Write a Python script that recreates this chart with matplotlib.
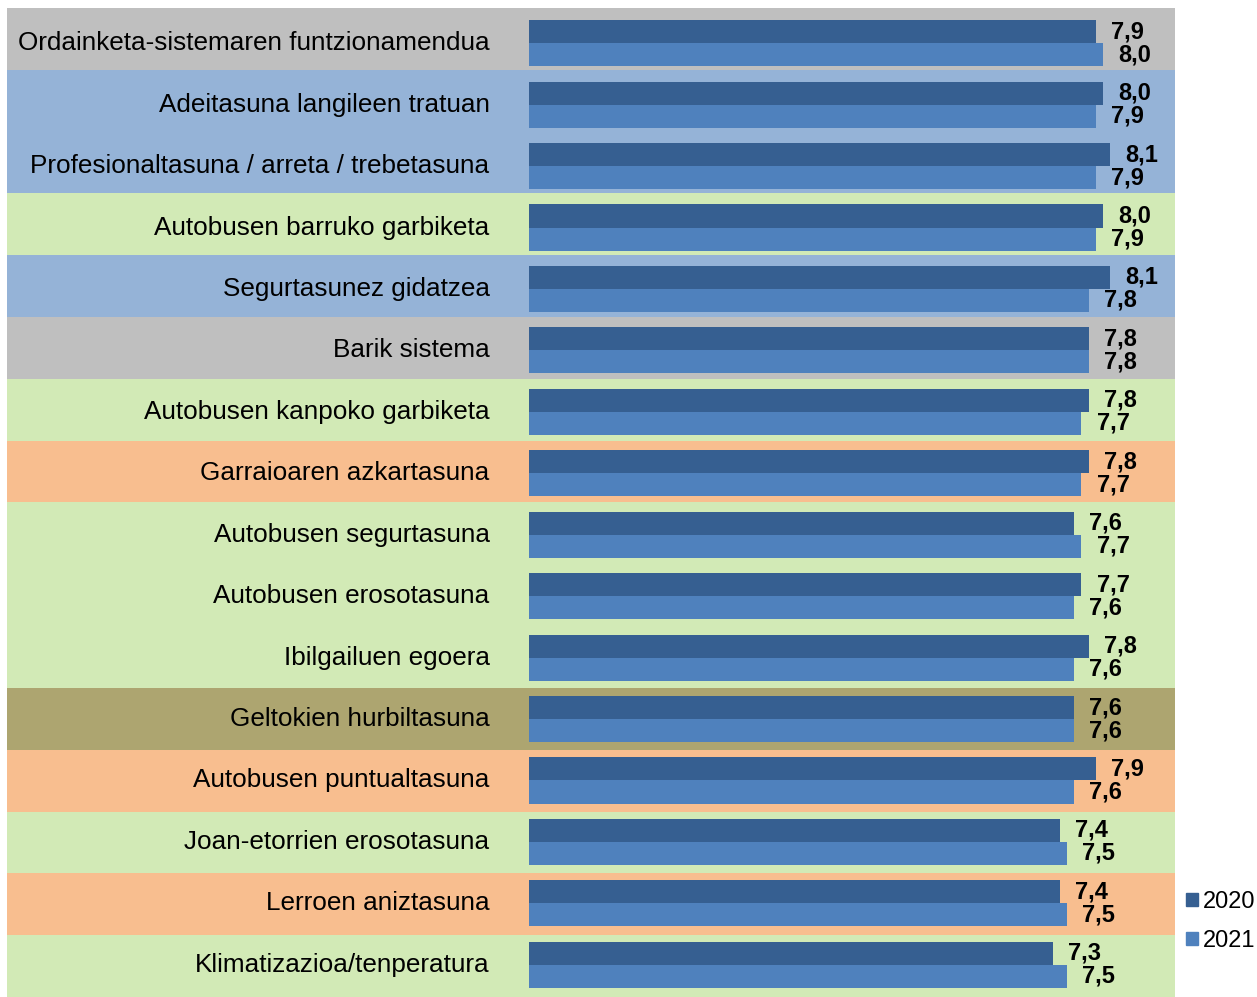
import matplotlib.pyplot as plt
from matplotlib.patches import Patch

plt.rcParams['font.family'] = ['Liberation Sans', 'DejaVu Sans']

# datuak
categorias = [
    'Ordainketa-sistemaren funtzionamendua',
    'Adeitasuna langileen tratuan',
    'Profesionaltasuna / arreta / trebetasuna',
    'Autobusen barruko garbiketa',
    'Segurtasunez gidatzea',
    'Barik sistema',
    'Autobusen kanpoko garbiketa',
    'Garraioaren azkartasuna',
    'Autobusen segurtasuna',
    'Autobusen erosotasuna',
    'Ibilgailuen egoera',
    'Geltokien hurbiltasuna',
    'Autobusen puntualtasuna',
    'Joan-etorrien erosotasuna',
    'Lerroen aniztasuna',
    'Klimatizazioa/tenperatura',
]
v2020 = [7.9, 8.0, 8.1, 8.0, 8.1, 7.8, 7.8, 7.8, 7.6, 7.7, 7.8, 7.6, 7.9, 7.4, 7.4, 7.3]
v2021 = [8.0, 7.9, 7.9, 7.9, 7.8, 7.8, 7.7, 7.7, 7.7, 7.6, 7.6, 7.6, 7.6, 7.5, 7.5, 7.5]
series = ['2020', '2021']

# kolore bandak
gris = '#BFBFBF'
azul = '#95B3D7'
verde = '#D2EAB6'
naranja = '#F8BE8F'
oliva = '#ADA570'
bandas = [gris, azul, azul, verde, azul, gris, verde, naranja,
          verde, verde, verde, oliva, naranja, verde, naranja, verde]

c2020 = '#365F91'
c2021 = '#4F81BD'

W, H = 1257, 997
fig = plt.figure(figsize=(W / 100, H / 100), dpi=100)

xmin, xmax = -7.275, 9.004
n = len(categorias)

# fondo
ax_bg = fig.add_axes([7 / W, 0 / H, 1168 / W, 989 / H])
for i, col in enumerate(bandas):
    ax_bg.axhspan(i - 0.5, i + 0.5, color=col, lw=0)
ax_bg.set_xlim(xmin, xmax)
ax_bg.set_ylim(n - 0.5, -0.5)
ax_bg.axis('off')

# barrak
ax = fig.add_axes([7 / W, 1.5 / H, 1168 / W, 983 / H])
ax.patch.set_alpha(0)
h = 0.375
y = list(range(n))
ax.barh([i - h / 2 for i in y], v2020, height=h, color=c2020, lw=0)
ax.barh([i + h / 2 for i in y], v2021, height=h, color=c2021, lw=0)
for i in y:
    ax.text(v2020[i] + 0.21, i - h / 2, f'{v2020[i]:.1f}'.replace('.', ','),
            ha='left', va='center', fontsize=17, fontweight='bold')
    ax.text(v2021[i] + 0.21, i + h / 2, f'{v2021[i]:.1f}'.replace('.', ','),
            ha='left', va='center', fontsize=17, fontweight='bold')
    ax.text(-0.55, i, categorias[i], ha='right', va='center', fontsize=18.8)
ax.set_xlim(xmin, xmax)
ax.set_ylim(n - 0.5, -0.5)
ax.axis('off')

handles = [Patch(color=c2020, label=series[0]), Patch(color=c2021, label=series[1])]
fig.legend(handles=handles, loc='upper left', bbox_to_anchor=(1186 / W, 1 - 891 / H),
           frameon=False, fontsize=17, handlelength=0.5, handleheight=0.5,
           handletextpad=0.2, labelspacing=0.72, borderpad=0, borderaxespad=0)

fig.savefig('out.png', dpi=100)
